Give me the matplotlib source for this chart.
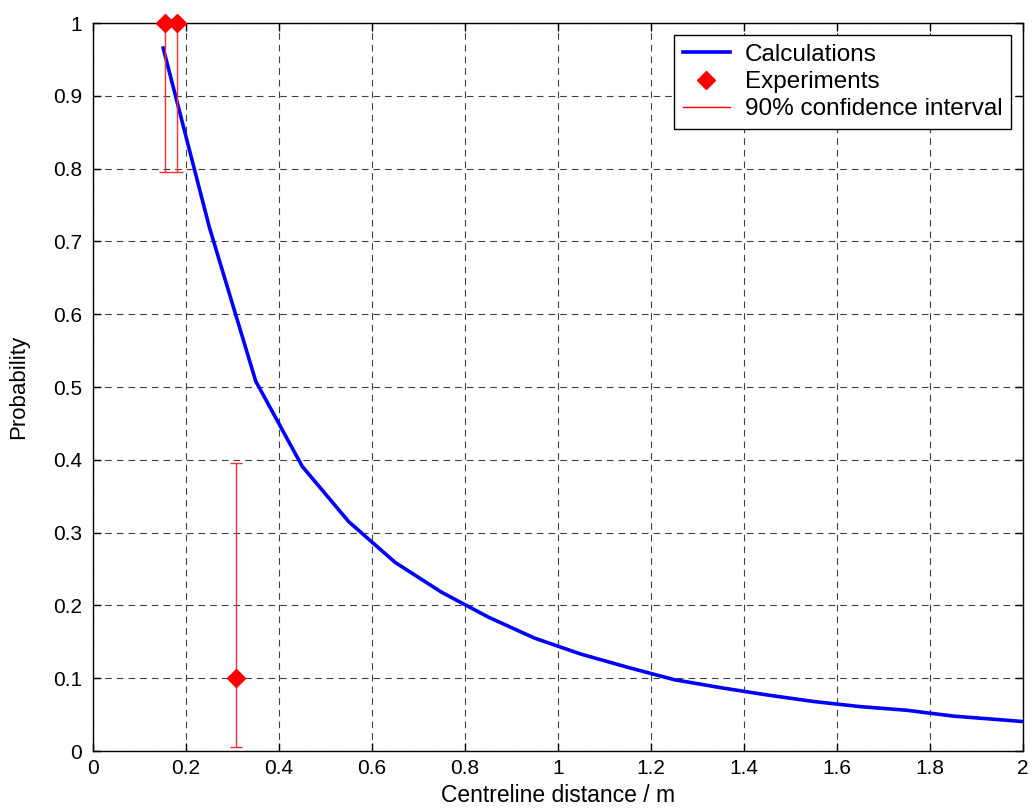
import matplotlib.pyplot as plt
from matplotlib.lines import Line2D

plt.rcParams['font.family'] = ['Liberation Sans', 'DejaVu Sans']

# calculated probability vs centreline distance
calc_x = [0.15, 0.25, 0.35, 0.45, 0.55, 0.65, 0.75, 0.85, 0.95, 1.05,
          1.15, 1.25, 1.35, 1.45, 1.55, 1.65, 1.75, 1.85, 1.95, 2.05]
calc_p = [0.968, 0.720, 0.508, 0.391, 0.315, 0.259, 0.218, 0.184, 0.155, 0.133,
          0.115, 0.098, 0.087, 0.077, 0.068, 0.061, 0.056, 0.048, 0.043, 0.038]

# experiments with 90% confidence interval
exp_x = [0.154, 0.180, 0.307]
exp_p = [1.0, 1.0, 0.1]
ci_low = [0.795, 0.795, 0.006]
ci_high = [1.0, 1.0, 0.395]

xticks = [0, 0.2, 0.4, 0.6, 0.8, 1, 1.2, 1.4, 1.6, 1.8, 2]
yticks = [0, 0.1, 0.2, 0.3, 0.4, 0.5, 0.6, 0.7, 0.8, 0.9, 1]

fig = plt.figure(figsize=(10.32, 8.1), dpi=100)
ax = fig.add_axes([0.0901, 0.0728, 0.9012, 0.8988])

ax.plot(calc_x, calc_p, color='#0000ff', lw=2.6, solid_capstyle='butt', zorder=3)

yerr = [[p - lo for p, lo in zip(exp_p, ci_low)],
        [hi - p for p, hi in zip(exp_p, ci_high)]]
ax.errorbar(exp_x, exp_p, yerr=yerr, fmt='none', ecolor='#ff2a2a', elinewidth=1,
            capsize=4.5, capthick=1, zorder=4, clip_on=False)
ax.plot(exp_x, exp_p, 'D', color='#ff0000', ms=9, mec='#ff0000', zorder=5,
        clip_on=False)

ax.set_xlim(0, 2)
ax.set_ylim(0, 1)
ax.set_xticks(xticks)
ax.set_yticks(yticks)
ax.set_xticklabels([f"{t:g}" for t in xticks])
ax.set_yticklabels([f"{t:g}" for t in yticks])
ax.tick_params(direction='in', top=True, right=True, length=6, width=1,
               labelsize=15)
ax.tick_params(axis='x', pad=6)
ax.tick_params(axis='y', pad=8)
ax.grid(True, color='black', linestyle=(0, (6, 4.5)), linewidth=0.8, alpha=0.75)
for s in ax.spines.values():
    s.set_linewidth(1)

ax.set_xlabel("Centreline distance / m", fontsize=16.5, labelpad=4)
ax.set_ylabel("Probability", fontsize=16, labelpad=17)

handles = [
    Line2D([], [], color='#0000ff', lw=2.6),
    Line2D([], [], ls='none', marker='D', color='#ff0000', ms=9),
    Line2D([], [], color='#ff0000', lw=1),
]
leg = ax.legend(handles, ["Calculations", "Experiments", "90% confidence interval"],
                loc='upper right', fontsize=17.5, fancybox=False, framealpha=1,
                edgecolor='black', borderaxespad=0.5, handlelength=1.95,
                labelspacing=0.22, borderpad=0.35, handletextpad=0.6)
leg.get_frame().set_linewidth(1)

fig.savefig("out.png", dpi=100)
